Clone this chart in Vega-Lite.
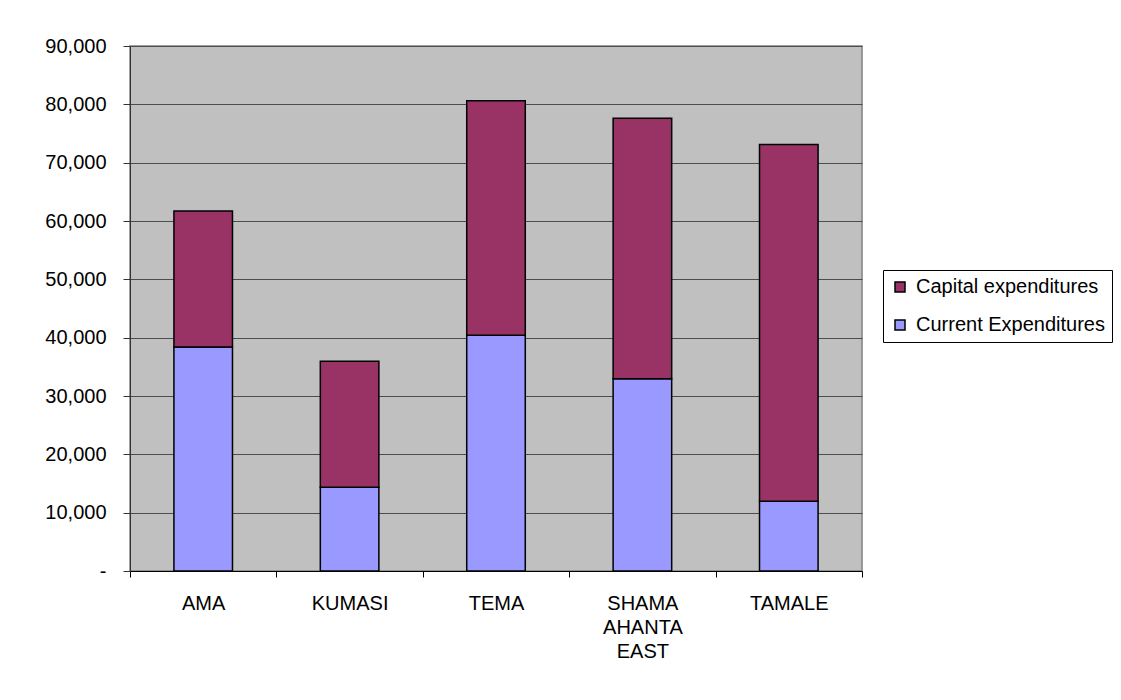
{
  "$schema": "https://vega.github.io/schema/vega-lite/v6.json",
  "width": 732,
  "height": 525,
  "autosize": {"type": "none"},
  "padding": {"left": 130, "top": 46, "right": 259, "bottom": 129},
  "background": "white",
  "config": {
    "font": "Liberation Sans",
    "view": {"fill": "#C0C0C0", "stroke": "#808080", "strokeWidth": 1.5}
  },
  "data": {
    "values": [
      {"district": "AMA", "series": "Current Expenditures", "amount": 38400},
      {"district": "AMA", "series": "Capital expenditures", "amount": 23300},
      {"district": "KUMASI", "series": "Current Expenditures", "amount": 14350},
      {"district": "KUMASI", "series": "Capital expenditures", "amount": 21600},
      {"district": "TEMA", "series": "Current Expenditures", "amount": 40430},
      {"district": "TEMA", "series": "Capital expenditures", "amount": 40170},
      {"district": "SHAMA AHANTA EAST", "series": "Current Expenditures", "amount": 32950},
      {"district": "SHAMA AHANTA EAST", "series": "Capital expenditures", "amount": 44650},
      {"district": "TAMALE", "series": "Current Expenditures", "amount": 11960},
      {"district": "TAMALE", "series": "Capital expenditures", "amount": 61170}
    ]
  },
  "mark": {"type": "bar", "stroke": "black", "strokeWidth": 1.5, "width": {"band": 0.4}},
  "encoding": {
    "x": {
      "field": "district",
      "type": "nominal",
      "sort": null,
      "scale": {"paddingInner": 0, "paddingOuter": 0},
      "axis": {
        "title": null,
        "labelAngle": 0,
        "labelFontSize": 20,
        "labelColor": "black",
        "labelExpr": "split(datum.label, ' ')",
        "labelLineHeight": 24,
        "labelPadding": 16,
        "tickBand": "extent",
        "tickSize": 6,
        "tickColor": "#000000",
        "domainColor": "#000000",
        "grid": false
      }
    },
    "y": {
      "field": "amount",
      "type": "quantitative",
      "stack": "zero",
      "scale": {"domain": [0, 90000], "nice": false},
      "axis": {
        "title": null,
        "values": [0, 10000, 20000, 30000, 40000, 50000, 60000, 70000, 80000, 90000],
        "labelExpr": "datum.value === 0 ? '-\u00a0\u00a0\u00a0\u00a0\u00a0' : format(datum.value, ',')",
        "labelFontSize": 20,
        "labelColor": "black",
        "labelPadding": 17,
        "tickSize": 7,
        "tickColor": "#333333",
        "domainColor": "#333333",
        "grid": true,
        "gridColor": "#4d4d4d",
        "gridWidth": 1
      }
    },
    "color": {
      "field": "series",
      "type": "nominal",
      "scale": {
        "domain": ["Capital expenditures", "Current Expenditures"],
        "range": ["#993366", "#9999FF"]
      },
      "legend": {
        "title": null,
        "orient": "none",
        "legendX": 753,
        "legendY": 224,
        "fillColor": "white",
        "strokeColor": "#000000",
        "padding": 7,
        "labelFontSize": 20,
        "labelLimit": 400,
        "labelColor": "black",
        "labelOffset": 6,
        "symbolType": "square",
        "symbolSize": 100,
        "symbolStrokeColor": "black",
        "symbolStrokeWidth": 1.5,
        "rowPadding": 18
      }
    },
    "order": {"field": "series", "sort": "descending"}
  }
}
